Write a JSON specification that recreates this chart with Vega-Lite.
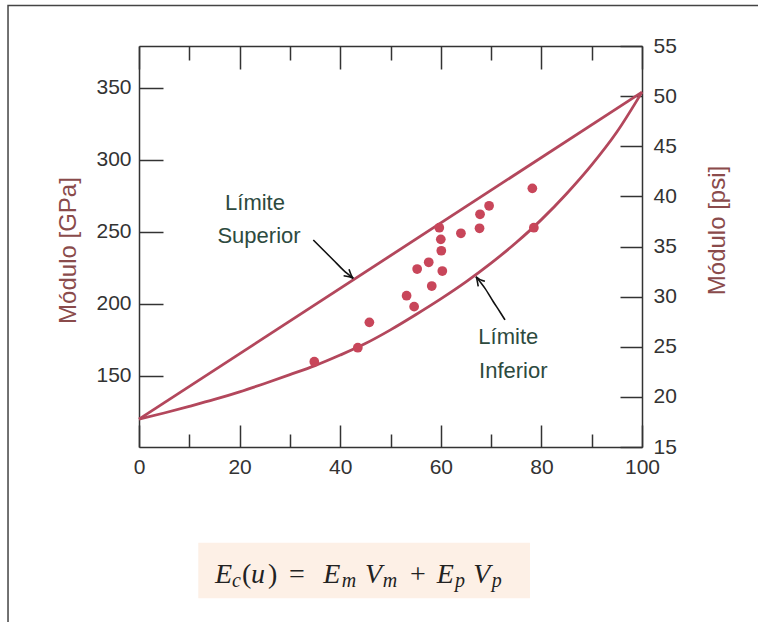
{
  "$schema": "https://vega.github.io/schema/vega-lite/v6.json",
  "width": 503,
  "height": 401,
  "autosize": {"type": "none"},
  "padding": {"left": 139, "top": 46, "right": 116, "bottom": 175},
  "background": "white",
  "config": {
    "view": {"stroke": null},
    "axis": {
      "grid": false,
      "domainColor": "#333333",
      "domainWidth": 1.5,
      "tickColor": "#333333",
      "tickWidth": 1.5,
      "labelFont": "Liberation Sans",
      "labelFontSize": 21,
      "labelColor": "#333333",
      "labelFlush": false,
      "labelOverlap": false,
      "titleFont": "Liberation Sans",
      "titleFontSize": 24,
      "titleFontWeight": "normal",
      "titleColor": "#8A4B4B"
    }
  },
  "datasets": {
    "frame": [{"V1": -26.04, "V2": 151, "E1": 407.1, "E2": -75}],
    "box": [{"V1": 11.79, "V2": 77.73, "E1": 34.3, "E2": -4.3}],
    "upper": [{"V": 0, "E": 120}, {"V": 100, "E": 347}],
    "lower": [
      {"V": 0, "E": 120}, {"V": 5, "E": 124.3}, {"V": 10, "E": 128.9}, {"V": 15, "E": 133.7},
      {"V": 20, "E": 139}, {"V": 25, "E": 144.8}, {"V": 30, "E": 150.9}, {"V": 35, "E": 157.2},
      {"V": 40, "E": 164.5}, {"V": 45, "E": 172.5}, {"V": 50, "E": 182}, {"V": 55, "E": 192.5},
      {"V": 60, "E": 203.5}, {"V": 65, "E": 215.3}, {"V": 70, "E": 228.3}, {"V": 75, "E": 242.6},
      {"V": 80, "E": 258.5}, {"V": 85, "E": 276.5}, {"V": 90, "E": 296.5}, {"V": 95, "E": 319.3},
      {"V": 100, "E": 347}
    ],
    "pts": [
      {"V": 34.85, "E": 159.9}, {"V": 43.5, "E": 169.6}, {"V": 45.8, "E": 187.2},
      {"V": 53.2, "E": 205.7}, {"V": 54.7, "E": 198.1}, {"V": 55.3, "E": 224.2},
      {"V": 57.6, "E": 228.9}, {"V": 58.2, "E": 212.4}, {"V": 59.7, "E": 252.9},
      {"V": 60.0, "E": 244.8}, {"V": 60.1, "E": 236.9}, {"V": 60.3, "E": 222.8},
      {"V": 64.0, "E": 249.0}, {"V": 67.7, "E": 252.5}, {"V": 67.8, "E": 262.2},
      {"V": 69.6, "E": 268.1}, {"V": 78.2, "E": 280.2}, {"V": 78.5, "E": 252.9}
    ],
    "labels": [
      {"V": 23.06, "E": 265.2, "t": "Límite"},
      {"V": 23.86, "E": 242.6, "t": "Superior"},
      {"V": 73.42, "E": 172.2, "t": "Límite"},
      {"V": 74.41, "E": 148.9, "t": "Inferior"}
    ],
    "arrows": [
      {"seg": "a1", "o": 1, "V": 34.65, "E": 244.4},
      {"seg": "a1", "o": 2, "V": 36.64, "E": 237.4},
      {"seg": "a1", "o": 3, "V": 38.63, "E": 230.5},
      {"seg": "a1", "o": 4, "V": 40.62, "E": 223.5},
      {"seg": "a1", "o": 5, "V": 42.6, "E": 217.8},
      {"seg": "h1", "o": 1, "V": 41.75, "E": 224.1},
      {"seg": "h1", "o": 2, "V": 42.6, "E": 217.8},
      {"seg": "h1", "o": 3, "V": 40.68, "E": 219.6},
      {"seg": "a2", "o": 1, "V": 67.0, "E": 218.9},
      {"seg": "a2", "o": 2, "V": 68.79, "E": 210.8},
      {"seg": "a2", "o": 3, "V": 70.44, "E": 201.5},
      {"seg": "a2", "o": 4, "V": 71.77, "E": 194.4},
      {"seg": "a2", "o": 5, "V": 72.76, "E": 188.9},
      {"seg": "h2", "o": 1, "V": 67.44, "E": 212.2},
      {"seg": "h2", "o": 2, "V": 67.0, "E": 218.9},
      {"seg": "h2", "o": 3, "V": 68.77, "E": 215.7}
    ],
    "fmain": [
      {"V": 15.11, "E": 6.1, "t": "E"}, {"V": 22.27, "E": 6.1, "t": "u"},
      {"V": 36.64, "E": 6.1, "t": "E"}, {"V": 44.93, "E": 6.1, "t": "V"},
      {"V": 59.18, "E": 6.1, "t": "E"}, {"V": 66.46, "E": 6.1, "t": "V"}
    ],
    "fup": [
      {"V": 20.48, "E": 6.1, "t": "("}, {"V": 25.65, "E": 6.1, "t": ")"},
      {"V": 29.82, "E": 6.1, "t": "="}, {"V": 53.88, "E": 6.1, "t": "+"}
    ],
    "fsub": [
      {"V": 18.49, "E": 3.5, "t": "c"}, {"V": 40.3, "E": 3.5, "t": "m"},
      {"V": 48.45, "E": 3.5, "t": "m"}, {"V": 62.82, "E": 3.5, "t": "p"},
      {"V": 70.12, "E": 3.5, "t": "p"}
    ],
    "psi": [{"psi": 15}, {"psi": 55}]
  },
  "layer": [
    {
      "data": {"name": "frame"},
      "mark": {"type": "rect", "fill": null, "fillOpacity": 0, "stroke": "#444444", "strokeWidth": 1.5},
      "encoding": {
        "x": {"field": "V1", "type": "quantitative", "scale": {"domain": [0, 100], "nice": false, "zero": false}, "axis": null},
        "x2": {"field": "V2"},
        "y": {"field": "E1", "type": "quantitative", "scale": {"domain": [100.7, 379], "nice": false, "zero": false}, "axis": null},
        "y2": {"field": "E2"}
      }
    },
    {
      "data": {"name": "box"},
      "mark": {"type": "rect", "fill": "#FDF0E6"},
      "encoding": {
        "x": {"field": "V1", "type": "quantitative", "scale": {"domain": [0, 100], "nice": false, "zero": false}, "axis": null},
        "x2": {"field": "V2"},
        "y": {"field": "E1", "type": "quantitative", "scale": {"domain": [100.7, 379], "nice": false, "zero": false}, "axis": null},
        "y2": {"field": "E2"}
      }
    },
    {
      "data": {"name": "upper"},
      "mark": {"type": "line", "color": "#B3475C", "strokeWidth": 2.8},
      "encoding": {
        "x": {"field": "V", "type": "quantitative", "scale": {"domain": [0, 100], "nice": false, "zero": false},
          "axis": {"orient": "bottom", "values": [0, 20, 40, 60, 80, 100], "tickSize": -22, "labelPadding": 31, "title": null}},
        "y": {"field": "E", "type": "quantitative", "scale": {"domain": [100.7, 379], "nice": false, "zero": false},
          "axis": {"orient": "left", "values": [150, 200, 250, 300, 350], "tickSize": -24, "labelPadding": 32,
            "title": "Módulo [GPa]", "titleX": -71, "titleY": 204, "titleBaseline": "middle", "titleAngle": 270}}
      }
    },
    {
      "data": {"name": "lower"},
      "mark": {"type": "line", "color": "#B3475C", "strokeWidth": 2.8, "interpolate": "monotone"},
      "encoding": {
        "x": {"field": "V", "type": "quantitative", "scale": {"domain": [0, 100], "nice": false, "zero": false},
          "axis": {"orient": "top", "values": [0, 20, 40, 60, 80, 100], "tickSize": -23, "labels": false, "title": null}},
        "y": {"field": "E", "type": "quantitative", "scale": {"domain": [100.7, 379], "nice": false, "zero": false}, "axis": null}
      }
    },
    {
      "data": {"name": "pts"},
      "mark": {"type": "circle", "color": "#C8465A", "opacity": 1, "size": 95},
      "encoding": {
        "x": {"field": "V", "type": "quantitative", "scale": {"domain": [0, 100], "nice": false, "zero": false},
          "axis": {"orient": "bottom", "values": [10, 30, 50, 70, 90], "tickSize": -13, "labels": false, "domain": false, "title": null}},
        "y": {"field": "E", "type": "quantitative", "scale": {"domain": [100.7, 379], "nice": false, "zero": false}, "axis": null}
      }
    },
    {
      "data": {"name": "labels"},
      "mark": {"type": "text", "font": "Liberation Sans", "fontSize": 22, "color": "#2D4A3E", "align": "center", "baseline": "alphabetic"},
      "encoding": {
        "x": {"field": "V", "type": "quantitative", "scale": {"domain": [0, 100], "nice": false, "zero": false},
          "axis": {"orient": "top", "values": [10, 30, 50, 70, 90], "tickSize": -14, "labels": false, "domain": false, "title": null}},
        "y": {"field": "E", "type": "quantitative", "scale": {"domain": [100.7, 379], "nice": false, "zero": false}, "axis": null},
        "text": {"field": "t"}
      }
    },
    {
      "data": {"name": "arrows"},
      "mark": {"type": "line", "color": "#111111", "strokeWidth": 1.6, "interpolate": "monotone"},
      "encoding": {
        "x": {"field": "V", "type": "quantitative", "scale": {"domain": [0, 100], "nice": false, "zero": false}, "axis": null},
        "y": {"field": "E", "type": "quantitative", "scale": {"domain": [100.7, 379], "nice": false, "zero": false}, "axis": null},
        "detail": {"field": "seg"},
        "order": {"field": "o"}
      }
    },
    {
      "data": {"name": "fmain"},
      "mark": {"type": "text", "font": "Liberation Serif", "fontStyle": "italic", "fontSize": 28, "color": "#222222", "align": "left", "baseline": "alphabetic"},
      "encoding": {
        "x": {"field": "V", "type": "quantitative", "scale": {"domain": [0, 100], "nice": false, "zero": false}, "axis": null},
        "y": {"field": "E", "type": "quantitative", "scale": {"domain": [100.7, 379], "nice": false, "zero": false}, "axis": null},
        "text": {"field": "t"}
      }
    },
    {
      "data": {"name": "fup"},
      "mark": {"type": "text", "font": "Liberation Serif", "fontSize": 28, "color": "#222222", "align": "left", "baseline": "alphabetic"},
      "encoding": {
        "x": {"field": "V", "type": "quantitative", "scale": {"domain": [0, 100], "nice": false, "zero": false}, "axis": null},
        "y": {"field": "E", "type": "quantitative", "scale": {"domain": [100.7, 379], "nice": false, "zero": false}, "axis": null},
        "text": {"field": "t"}
      }
    },
    {
      "data": {"name": "fsub"},
      "mark": {"type": "text", "font": "Liberation Serif", "fontStyle": "italic", "fontSize": 20, "color": "#222222", "align": "left", "baseline": "alphabetic"},
      "encoding": {
        "x": {"field": "V", "type": "quantitative", "scale": {"domain": [0, 100], "nice": false, "zero": false}, "axis": null},
        "y": {"field": "E", "type": "quantitative", "scale": {"domain": [100.7, 379], "nice": false, "zero": false}, "axis": null},
        "text": {"field": "t"}
      }
    },
    {
      "data": {"name": "psi"},
      "mark": {"type": "point", "opacity": 0},
      "encoding": {
        "y": {"field": "psi", "type": "quantitative", "scale": {"domain": [15, 55], "nice": false, "zero": false},
          "axis": {"orient": "right", "values": [15, 20, 25, 30, 35, 40, 45, 50, 55], "tickSize": -22, "labelPadding": 33,
            "title": "Módulo [psi]", "titleX": 75, "titleY": 184, "titleBaseline": "middle", "titleAngle": 270}}
      }
    }
  ],
  "resolve": {
    "scale": {"y": "independent"},
    "axis": {"x": "independent", "y": "independent"}
  }
}
